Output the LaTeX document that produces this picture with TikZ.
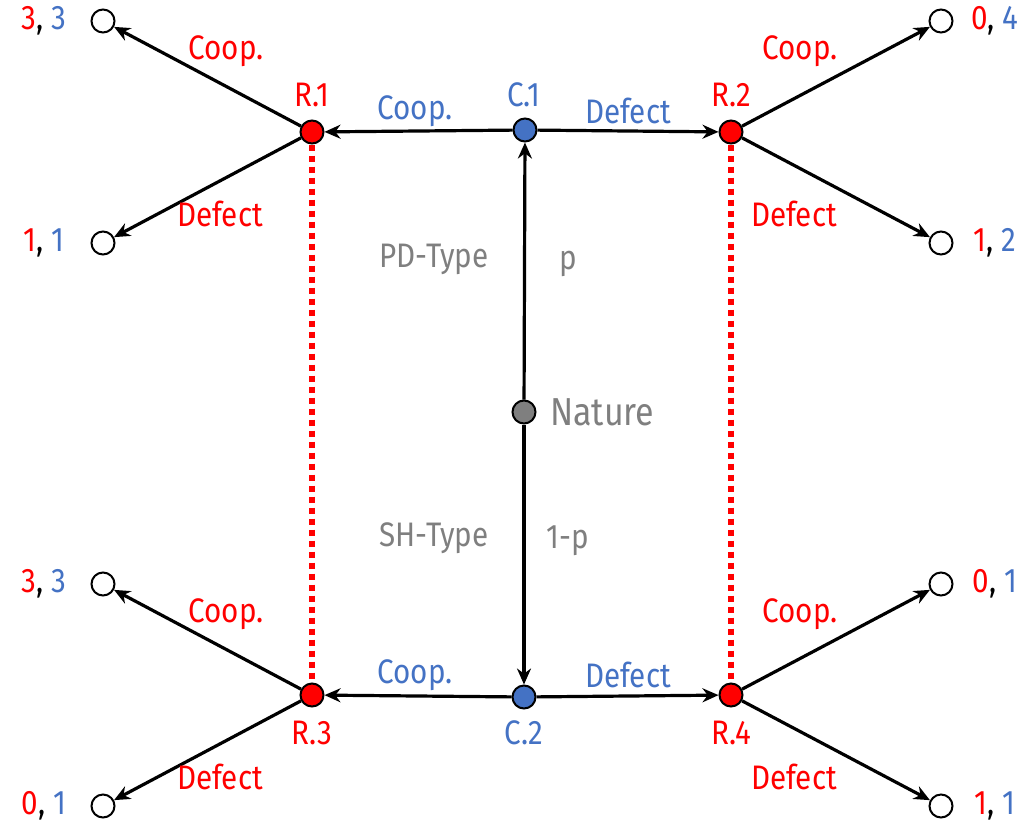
\documentclass[tikz,border=0pt]{standalone}
\usepackage{fontspec}
\setmainfont{Fira Sans}[FakeStretch=0.87]
\usetikzlibrary{arrows.meta}
\definecolor{pred}{HTML}{FF0000}
\definecolor{pblue}{HTML}{4472C4}
\definecolor{pgray}{HTML}{7F7F7F}
\tikzset{
  dot/.style={circle, draw=black, line width=2pt, minimum size=23pt, inner sep=0pt},
  rowdot/.style={dot, fill=pred},
  coldot/.style={dot, fill=pblue},
  natdot/.style={dot, fill=pgray},
  leaf/.style={dot, fill=white},
  move/.style={line width=3.2pt, -{Stealth[length=16pt, width=14pt]}},
  info/.style={pred, line width=5.5pt, dash pattern=on 6pt off 5pt},
  lbl/.style={font=\fontsize{34}{40}\selectfont, inner sep=0pt},
  rlbl/.style={lbl, text=pred},
  blbl/.style={lbl, text=pblue},
  glbl/.style={lbl, text=pgray},
}
\begin{document}
\begin{tikzpicture}[x=1pt, y=-1pt]
\useasboundingbox (0,0) rectangle (1032,825);

% decision nodes
\node[natdot] (N)  at (524,412) {};
\node[coldot] (C1) at (525,130) {};
\node[coldot] (C2) at (524,697) {};
\node[rowdot] (R1) at (312,132) {};
\node[rowdot] (R2) at (731,132) {};
\node[rowdot] (R3) at (312,695) {};
\node[rowdot] (R4) at (731,695) {};

% terminal nodes
\node[leaf] (T1) at (103,21)  {};
\node[leaf] (T2) at (103,243) {};
\node[leaf] (T3) at (941,21)  {};
\node[leaf] (T4) at (941,243) {};
\node[leaf] (T5) at (103,584) {};
\node[leaf] (T6) at (103,806) {};
\node[leaf] (T7) at (941,584) {};
\node[leaf] (T8) at (941,806) {};

% information sets
\draw[info] (R1.south) -- (R3.north);
\draw[info] (R2.south) -- (R4.north);

% moves
\draw[move] (N) -- (C1);
\draw[move] (N) -- (C2);
\draw[move] (C1) -- (R1);
\draw[move] (C1) -- (R2);
\draw[move] (C2) -- (R3);
\draw[move] (C2) -- (R4);
\draw[move] (R1) -- (T1);
\draw[move] (R1) -- (T2);
\draw[move] (R2) -- (T3);
\draw[move] (R2) -- (T4);
\draw[move] (R3) -- (T5);
\draw[move] (R3) -- (T6);
\draw[move] (R4) -- (T7);
\draw[move] (R4) -- (T8);

% node names
\node[rlbl] (lR1) at (312,95)  {R.1};
\node[blbl] (lC1) at (524,95)  {C.1};
\node[rlbl] (lR2) at (731,95)  {R.2};
\node[rlbl] (lR3) at (312,733) {R.3};
\node[blbl] (lC2) at (524,733) {C.2};
\node[rlbl] (lR4) at (731,733) {R.4};
\node[glbl, anchor=west, font=\fontsize{39}{45}\selectfont] (lN) at (550,412) {Nature};

% chance labels
\node[glbl] (pd)  at (434,259) {PD-Type};
\node[glbl] (pp)  at (568,264) {p};
\node[glbl] (sh)  at (434,538) {SH-Type};
\node[glbl] (qq)  at (568,541) {1-p};

% column moves
\node[blbl] (cc1) at (415,111) {Coop.};
\node[blbl] (cd1) at (628,111) {Defect};
\node[blbl] (cc2) at (415,675) {Coop.};
\node[blbl] (cd2) at (628,675) {Defect};

% row moves
\node[rlbl] (rc1) at (226,51)  {Coop.};
\node[rlbl] (rd1) at (220,214) {Defect};
\node[rlbl] (rc2) at (800,51)  {Coop.};
\node[rlbl] (rd2) at (794,214) {Defect};
\node[rlbl] (rc3) at (226,614) {Coop.};
\node[rlbl] (rd3) at (220,777) {Defect};
\node[rlbl] (rc4) at (800,614) {Coop.};
\node[rlbl] (rd4) at (794,777) {Defect};

% payoffs
\node[lbl] (p1) at (44,21)   {\textcolor{pred}{3}, \textcolor{pblue}{3}};
\node[lbl] (p2) at (44,243)  {\textcolor{pred}{1}, \textcolor{pblue}{1}};
\node[lbl] (p3) at (995,21)  {\textcolor{pred}{0}, \textcolor{pblue}{4}};
\node[lbl] (p4) at (995,243) {\textcolor{pred}{1}, \textcolor{pblue}{2}};
\node[lbl] (p5) at (44,584)  {\textcolor{pred}{3}, \textcolor{pblue}{3}};
\node[lbl] (p6) at (44,806)  {\textcolor{pred}{0}, \textcolor{pblue}{1}};
\node[lbl] (p7) at (995,584) {\textcolor{pred}{0}, \textcolor{pblue}{1}};
\node[lbl] (p8) at (995,806) {\textcolor{pred}{1}, \textcolor{pblue}{1}};
\end{tikzpicture}
\end{document}
